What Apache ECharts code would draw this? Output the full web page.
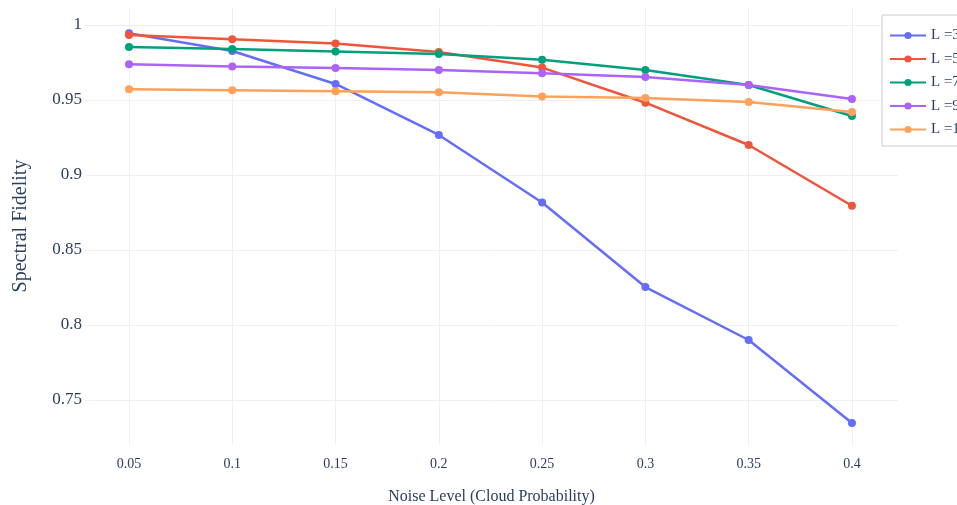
<!DOCTYPE html>
<html>
<head>
<meta charset="utf-8">
<script src="https://cdn.jsdelivr.net/npm/echarts@6/dist/echarts.min.js"></script>
<style>html,body{margin:0;padding:0;background:#fff}#c{width:957px;height:505px}</style>
</head>
<body>
<div id="c"></div>
<script>
const noise = [0.05, 0.1, 0.15, 0.2, 0.25, 0.3, 0.35, 0.4];
const seriesNames = ['L =3', 'L =5', 'L =7', 'L =9', 'L =11'];
const fidL3  = [0.9945, 0.9827, 0.9607, 0.9267, 0.8817, 0.8253, 0.7900, 0.7347];
const fidL5  = [0.9933, 0.9905, 0.9876, 0.9820, 0.9716, 0.9482, 0.9200, 0.8795];
const fidL7  = [0.9853, 0.9840, 0.9824, 0.9807, 0.9769, 0.9700, 0.9600, 0.9393];
const fidL9  = [0.9738, 0.9724, 0.9713, 0.9700, 0.9678, 0.9653, 0.9600, 0.9507];
const fidL11 = [0.9571, 0.9565, 0.9558, 0.9551, 0.9524, 0.9513, 0.9487, 0.9420];
const xTicks = [0.05, 0.1, 0.15, 0.2, 0.25, 0.3, 0.35, 0.4];
const yTicks = [0.75, 0.8, 0.85, 0.9, 0.95, 1];
const colors = ['#636efa', '#ef553b', '#00a07c', '#ab63fa', '#ffa15a'];

const allSeries = [fidL3, fidL5, fidL7, fidL9, fidL11];
const font = 'Liberation Serif';
const txt = '#2a3f5f';
const fmt = v => String(+(+v).toFixed(3));

const chart = echarts.init(document.getElementById('c'), null, {renderer: 'canvas'});
chart.setOption({
  animation: false,
  backgroundColor: '#fff',
  color: colors,
  grid: {left: 85, right: 59, top: 7, bottom: 60, containLabel: false, outerBoundsMode: 'none'},
  legend: {
    orient: 'vertical', left: 882, top: 15,
    padding: [13, 8, 9, 7],
    itemWidth: 36, itemHeight: 9, itemGap: 8.5,
    borderColor: '#cccccc', borderWidth: 1, backgroundColor: '#fff',
    textStyle: {fontFamily: font, fontSize: 15, color: txt},
    data: seriesNames
  },
  xAxis: {
    type: 'value', min: 0.0287, max: 0.4223,
    name: 'Noise Level (Cloud Probability)', nameLocation: 'middle', nameGap: 44,
    nameTextStyle: {fontFamily: font, fontSize: 16, color: txt},
    axisLine: {show: false},
    axisTick: {show: false, customValues: xTicks},
    axisLabel: {customValues: xTicks, formatter: fmt, fontFamily: font, fontSize: 14, color: txt, margin: 12},
    splitLine: {show: true, lineStyle: {color: '#ebf0f8', width: 1}}
  },
  yAxis: {
    type: 'value', min: 0.72, max: 1.012,
    name: 'Spectral Fidelity', nameLocation: 'middle', nameGap: 54,
    nameTextStyle: {fontFamily: font, fontSize: 20, color: txt},
    axisLine: {show: false},
    axisTick: {show: false, customValues: yTicks},
    axisLabel: {customValues: yTicks, formatter: fmt, fontFamily: font, fontSize: 17, color: txt, margin: 3},
    splitLine: {show: true, lineStyle: {color: '#eef0f3', width: 1}}
  },
  series: seriesNames.map((n, i) => ({
    name: n, type: 'line',
    data: noise.map((x, j) => [x, allSeries[i][j]]),
    symbol: 'circle', symbolSize: 8,
    lineStyle: {width: 2.5, color: colors[i]},
    itemStyle: {color: colors[i]},
    z: 2 + i
  }))
});
</script>
</body>
</html>
